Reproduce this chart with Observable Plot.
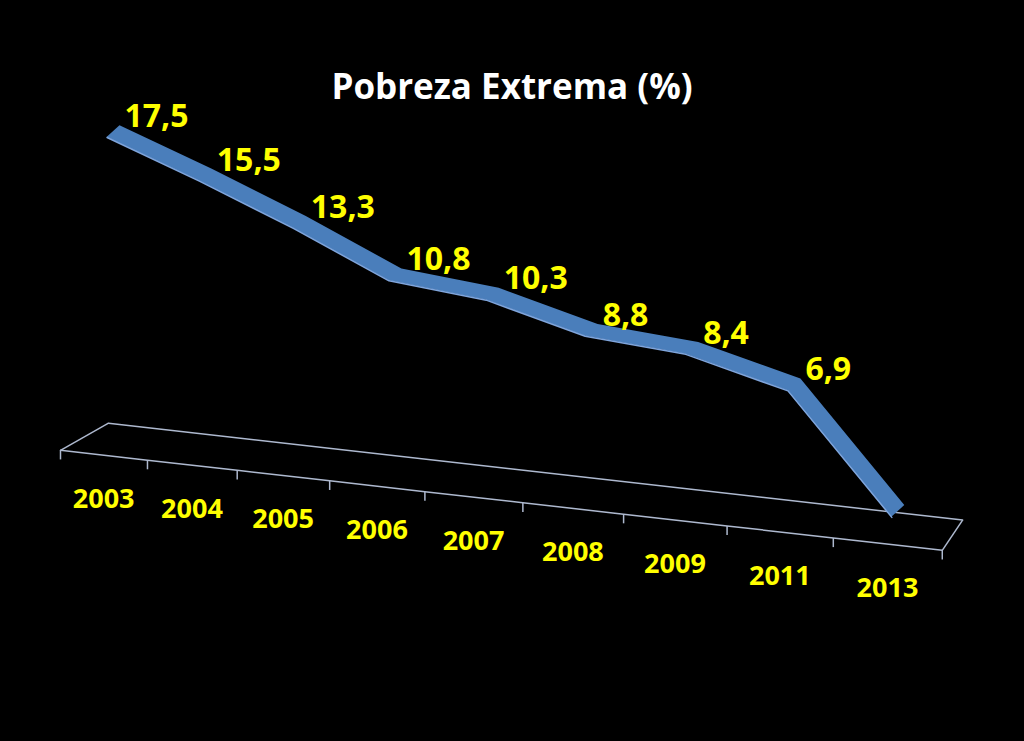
<!DOCTYPE html>
<html>
<head>
<meta charset="utf-8">
<script src="https://cdn.jsdelivr.net/npm/d3@7"></script>
<script src="https://cdn.jsdelivr.net/npm/@observablehq/plot@0.6"></script>
<style>
  html, body { margin: 0; padding: 0; background: #000; }
  #wrap { width: 1024px; height: 741px; background: #000; overflow: hidden; }
  #title {
    position: relative; z-index: 2;
    height: 62px; padding: 0; overflow: visible;
    text-align: center; color: #fff;
    font-family: "Open Sans", sans-serif; font-weight: 700;
    font-size: 35px; line-height: 34px; white-space: nowrap;
  }
  #title span { display: block; position: relative; top: 69px; }
  #chart { position: relative; z-index: 1; }
  svg { display: block; }
</style>
</head>
<body>
<div id="wrap">
  <div id="title"><span>Pobreza Extrema (%)</span></div>
  <div id="chart"></div>
</div>
<script>
// ---- data ----
const years = ["2003", "2004", "2005", "2006", "2007", "2008", "2009", "2011", "2013"];
const values = [17.5, 15.5, 13.3, 10.8, 10.3, 8.8, 8.4, 6.9, 0];
const valueLabels = ["17,5", "15,5", "13,3", "10,8", "10,3", "8,8", "8,4", "6,9", ""];

// ---- pseudo-3D projection helpers ----
// horizontal unit: one average category step on the ribbon plane
const STEP = 98.1;
const quad = (k, o, a, b) => (o + a * k + b * k * k) / STEP;   // perspective spacing
const frontU = k => quad(k, -53, 85.6, 1.375);   // front edge of the floor
const lineU = i => quad(i, 0, 91.5, 0.825);       // ribbon plane
const backU = k => quad(k, -5, 94.9, 0);          // back edge of the floor
const TILT = 11.13 / 16.62;          // floor slope, value units per unit
const yc = (u, v) => v - TILT * u;   // tilted y channel
const FRONT_V = -2.04, BACK_V = -0.08;
const RIB_U = 0.066, RIB_V = 0.4;    // half-depth of the ribbon

const n = years.length;
const rows = years.map((year, i) => ({year, i, u: lineU(i), value: values[i], label: valueLabels[i]}));
const bounds = d3.range(n + 1).map(k => ({k, uf: frontU(k), ub: backU(k)}));
const corners = [bounds[0], bounds[n]];

const yellow = "#FFFF00";
const floorColor = "#AEB9CF";
const font = "Open Sans, sans-serif";
const H = 679, TOP = 62;

const chart = Plot.plot({
  width: 1024,
  height: H,
  marginTop: 0, marginBottom: 0, marginLeft: 0, marginRight: 0,
  style: {background: "transparent", fontFamily: font},
  x: {domain: [-113 / STEP, (1024 - 113) / STEP], axis: null},
  y: {domain: [(421.9 - TOP - H) / 16.62, (421.9 - TOP) / 16.62], axis: null},
  marks: [
    // floor
    Plot.line(bounds, {x: "uf", y: d => yc(d.uf, FRONT_V), stroke: floorColor, strokeWidth: 1.5}),
    Plot.line(corners, {x: "ub", y: d => yc(d.ub, BACK_V), stroke: floorColor, strokeWidth: 1.5}),
    Plot.link(corners, {
      x1: "uf", y1: d => yc(d.uf, FRONT_V),
      x2: "ub", y2: d => yc(d.ub, BACK_V),
      stroke: floorColor, strokeWidth: 1.5
    }),
    // tick marks
    Plot.link(bounds, {
      x1: "uf", x2: "uf",
      y1: d => yc(d.uf, FRONT_V), y2: d => yc(d.uf, FRONT_V) - 0.55,
      stroke: floorColor, strokeWidth: 1.5
    }),
    // category labels
    Plot.text(rows, {
      x: d => frontU(d.i + 0.5),
      y: d => yc(frontU(d.i + 0.5), FRONT_V - 2.65),
      text: "year", fill: yellow, fontSize: 27, fontWeight: 700
    }),
    // ribbon (3D line)
    Plot.area(rows, {
      x1: d => d.u - RIB_U, y1: d => yc(d.u - RIB_U, d.value - RIB_V),
      x2: d => d.u + RIB_U, y2: d => yc(d.u + RIB_U, d.value + RIB_V),
      fill: "#4A7EBB", curve: "linear"
    }),
    Plot.line(rows, {
      x: d => d.u - RIB_U, y: d => yc(d.u - RIB_U, d.value - RIB_V),
      stroke: "#7FA5DC", strokeWidth: 1.5
    }),
    // value labels
    Plot.text(rows.filter(d => d.label), {
      x: "u", y: d => yc(d.u, d.value),
      text: "label", textAnchor: "start", dx: 11, dy: -15,
      fill: yellow, fontSize: 32, fontWeight: 700
    })
  ]
});
document.getElementById("chart").appendChild(chart);
</script>
</body>
</html>
